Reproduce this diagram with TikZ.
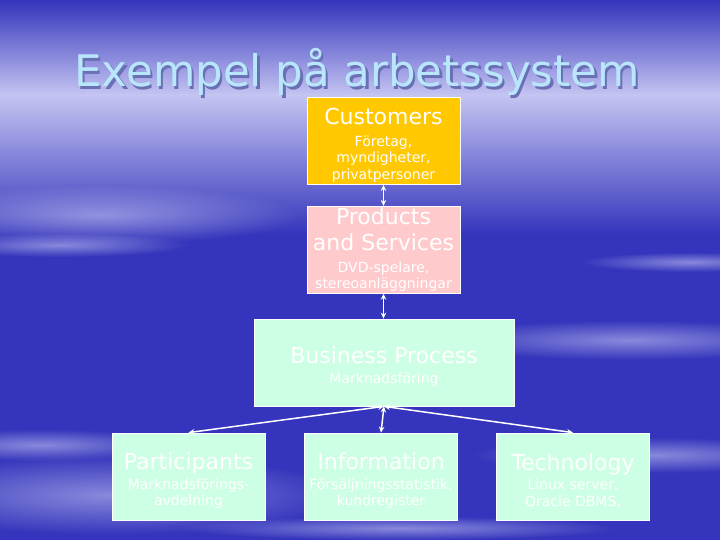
\documentclass[tikz,border=0pt]{standalone}
\usepackage{fontspec}
\setmainfont{DejaVu Sans}
\usetikzlibrary{positioning, arrows.meta, fadings}

\definecolor{custgold}{HTML}{FFC800}
\definecolor{prodpink}{HTML}{FFCACC}
\definecolor{mintgreen}{HTML}{CCFFE4}
\definecolor{titleblue}{HTML}{B8E6FA}
\definecolor{titleshade}{HTML}{6A70B4}
\definecolor{bgblue}{HTML}{3434BC}
\definecolor{bghorizon}{HTML}{C4C4F2}
\definecolor{streakcol}{HTML}{CCCCF6}

\tikzfading[name=softglow, inner color=transparent!20, outer color=transparent!100]

\newcommand{\bxhead}[1]{{\fontsize{22}{26}\selectfont #1}}
% first head line, with a strut that lowers the text a little
\newcommand{\bxtop}[1]{{\fontsize{22}{26}\selectfont\rule{0pt}{25pt}#1}}

\begin{document}
\begin{tikzpicture}[
    x=1pt, y=-1pt,
    box/.style={rectangle, draw=white, line width=0.8pt, minimum width=153pt, minimum height=87pt, align=center, inner sep=1pt, text=white, font=\fontsize{14}{16.5}\selectfont, fill=#1},
    arrow/.style={{Stealth[length=6pt,width=5.5pt]}-{Stealth[length=6pt,width=5.5pt]}, white, line width=1.5pt},
    streak/.style={streakcol, opacity=0.7, path fading=softglow},
]
\useasboundingbox (0,0) rectangle (720,540);

% background
\fill[bgblue] (0,0) rectangle (720,540);
\shade[top color=bgblue, bottom color=bghorizon] (0,0) rectangle (720,95);
\shade[top color=bghorizon, bottom color=bgblue] (0,95) rectangle (720,235);
\begin{scope}
\clip (0,0) rectangle (720,540);
\fill[streak] (100,215) ellipse (200 and 30);
\fill[streak] (60,245) ellipse (130 and 12);
\fill[streak] (630,340) ellipse (200 and 20);
\fill[streak] (690,262) ellipse (110 and 10);
\fill[streak] (110,495) ellipse (240 and 40);
\fill[streak] (40,445) ellipse (140 and 16);
\fill[streak] (650,455) ellipse (180 and 18);
\fill[streak] (400,528) ellipse (220 and 12);
\end{scope}

% title
\node[text=titleshade, font=\fontsize{43.5}{52}\selectfont] (titleshadow) at (359.5,74.5) {Exempel på arbetssystem};
\node[text=titleblue, font=\fontsize{43.5}{52}\selectfont] (title) at (357,72) {Exempel på arbetssystem};

\node[box=custgold] (customers) at (383.5,141) {\bxtop{Customers}\\[5pt] Företag,\\ myndigheter,\\ privatpersoner};
\node[box=prodpink, below=21pt of customers] (products) {\bxhead{Products}\\[8pt] \bxhead{and Services}\\[5pt] DVD-spelare,\\ stereoanläggningar};
\node[box=mintgreen, minimum width=260pt] (process) at (384,362.5) {\bxtop{Business Process}\\[4pt] Marknadsföring};

\node[box=mintgreen] (participants) at (188.5,476.5) {\bxtop{Participants}\\[3pt] Marknadsförings-\\ avdelning};
\node[box=mintgreen] (information) at (381,476.5) {\bxtop{Information}\\[3pt] Försäljningsstatistik,\\ kundregister};
\node[box=mintgreen] (technology) at (573,476.5) {\bxtop{Technology}\\[3pt] Linux server,\\ Oracle DBMS,};

\draw[arrow] (customers) -- (products);
\draw[arrow] (products.south) -- (products.south |- process.north);
\foreach \b in {participants, information, technology} {
    \draw[arrow] (process.south) -- (\b.north);
}

\end{tikzpicture}
\end{document}
